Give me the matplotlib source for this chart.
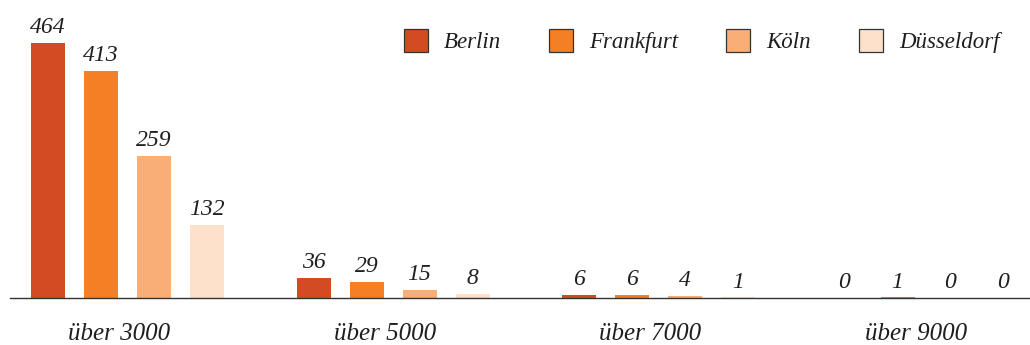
import matplotlib
matplotlib.use("Agg")
import matplotlib.pyplot as plt
from matplotlib.patches import Patch
import numpy as np

categories = ["über 3000", "über 5000", "über 7000", "über 9000"]
series = ["Berlin", "Frankfurt", "Köln", "Düsseldorf"]
berlin = [464, 36, 6, 0]
frankfurt = [413, 29, 6, 1]
koeln = [259, 15, 4, 0]
duesseldorf = [132, 8, 1, 0]
values = [berlin, frankfurt, koeln, duesseldorf]
colors = ["#d24b22", "#f47f25", "#f9ae76", "#fde1ca"]

font = dict(family="Liberation Serif", style="italic")
TXT = "#1e1e1e"

W, H = 1030, 345
fig = plt.figure(figsize=(W/100, H/100), dpi=100)
ax = fig.add_axes([10/W, (H-298)/H, 1020/W, 288/H])

gsp = 265.5          # group spacing in px
g0 = 127.5           # first group center in px
step = 53/gsp
width = 34/gsp
x = np.arange(len(categories))
for j, (name, vals, c) in enumerate(zip(series, values, colors)):
    pos = x + (j - 1.5)*step
    ax.bar(pos, vals, width=width, color=c, linewidth=0)
    for p, v in zip(pos, vals):
        ax.text(p, v + 9, str(v), ha="center", va="bottom", fontsize=17,
                color=TXT, **font)

ax.set_xlim((10 - g0)/gsp, (1030 - g0)/gsp)
ax.set_ylim(0, 288/0.55)
for s in ["top", "right", "left"]:
    ax.spines[s].set_visible(False)
ax.spines["bottom"].set_color("#333333")
ax.spines["bottom"].set_linewidth(1.0)
ax.set_yticks([])
ax.set_xticks(x - 0.03)
ax.set_xticklabels(categories, fontsize=18, color=TXT, **font)
ax.tick_params(axis="x", length=0, pad=18)

handles = [Patch(facecolor=c, edgecolor="#333333", linewidth=0.9, label=n)
           for n, c in zip(series, colors)]
leg = fig.legend(handles=handles, ncol=4, frameon=False, loc="center right",
                 bbox_to_anchor=(1009/W, 1 - 41/H),
                 prop=dict(family="Liberation Serif", style="italic", size=16.5),
                 handlelength=1.05, handleheight=1.15, columnspacing=2.1,
                 handletextpad=0.7, borderaxespad=0)
for t in leg.get_texts():
    t.set_color(TXT)

fig.savefig("out.png", dpi=100)
